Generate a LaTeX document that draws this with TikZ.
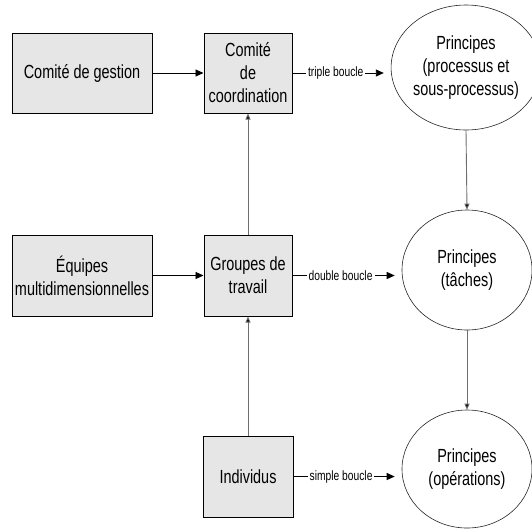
\documentclass[tikz,border=0pt]{standalone}
\usepackage{fontspec}
\setmainfont{Liberation Sans}[FakeStretch=0.76]
\usetikzlibrary{shapes.geometric,arrows.meta}
\definecolor{boxgray}{RGB}{230,230,230}
\definecolor{linegray}{RGB}{110,110,110}
\begin{document}
\begin{tikzpicture}[x=1pt,y=-1pt,
  box/.style={draw=black, fill=boxgray, line width=1pt, inner sep=0pt,
    align=center, font=\fontsize{19}{23}\selectfont},
  oval/.style={ellipse, draw=black!85, line width=0.6pt, fill=white, inner sep=0pt,
    align=center, font=\fontsize{19}{23}\selectfont},
  harrow/.style={draw=black, line width=0.9pt, -{Triangle[length=8pt,width=7pt]}},
  varrow/.style={draw=linegray, line width=0.9pt, -{Triangle[length=6pt,width=5pt,fill=black]}},
  lab/.style={fill=white, inner sep=2pt, font=\fontsize{13.5}{15}\selectfont}
]
\useasboundingbox (0,0) rectangle (532,531);
\node[box, minimum width=140pt, minimum height=80pt] (b1) at (82,73) {Comité de gestion};
\node[box, minimum width=88pt, minimum height=80pt] (b2) at (248,73) {Comité\\de\\coordination};
\node[box, minimum width=140pt, minimum height=81pt] (b3) at (82,275.5) {Équipes\\multidimensionnelles};
\node[box, minimum width=88pt, minimum height=81pt] (b4) at (248,275.5) {Groupes de\\travail};
\node[box, minimum width=90pt, minimum height=81pt] (b5) at (248,476.5) {Individus};

\node[oval, minimum width=131pt, minimum height=125pt] (c1) at (466,67.5) {Principes\\(processus et\\sous-processus)};
\node[oval, minimum width=130pt, minimum height=120pt] (c2) at (467,270) {Principes\\(tâches)};
\node[oval, minimum width=130pt, minimum height=118pt] (c3) at (467,469) {Principes\\(opérations)};

\draw[harrow] (b1) -- (b2);
\draw[harrow] (b3) -- (b4);
\draw[harrow, shorten >=7pt] (b2.east) -- node[lab, pos=0.44] {triple boucle} (b2.east -| c1.west);
\draw[harrow, shorten >=7pt] (b4.east) -- node[lab, pos=0.44] {double boucle} (b4.east -| c2.west);
\draw[harrow, shorten >=7pt] (b5.east) -- node[lab, pos=0.44] {simple boucle} (b5.east -| c3.west);

\draw[varrow] (c1.south) -- (c2.north);
\draw[varrow] (c2.south) -- (c3.north);
\draw[varrow] (b4.north) -- (b2.south);
\draw[varrow] (b5.north) -- (b4.south);
\end{tikzpicture}
\end{document}
